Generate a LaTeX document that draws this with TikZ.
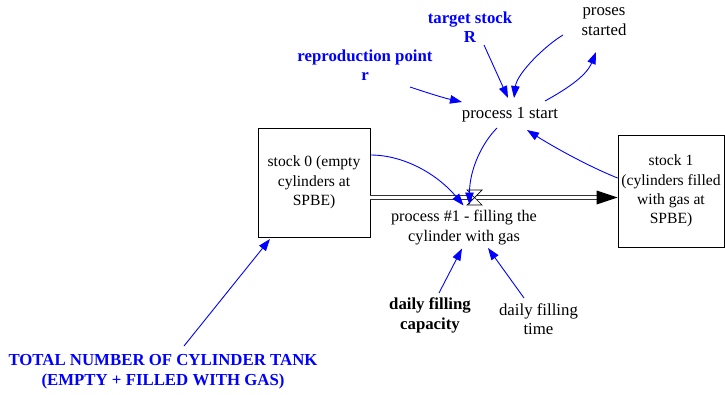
\documentclass[tikz,border=0pt]{standalone}
\usepackage{fontspec}
\setmainfont{Liberation Serif}
\usetikzlibrary{arrows.meta,calc}
\definecolor{infoblue}{RGB}{0,0,255}
\tikzset{
  txt/.style={align=center, inner sep=1pt, font=\fontsize{16.8}{19.5}\selectfont},
  boldtxt/.style={txt, font=\fontsize{16.8}{19.5}\selectfont\bfseries},
  bluetxt/.style={boldtxt, text=infoblue},
  stockbox/.style={txt, draw, line width=0.8pt, font=\fontsize{15.6}{19.3}\selectfont},
  link/.style={draw=infoblue, line width=0.9pt, -{Triangle[length=12pt,width=8.5pt]}},
  pipe/.style={draw=black!80, double=white, double distance=3pt, line width=0.75pt},
}
\begin{document}
\begin{tikzpicture}[x=1pt,y=-1pt]
\path[use as bounding box] (0,0) rectangle (725,394);

% stocks
\node[stockbox, minimum width=112pt, minimum height=109pt] (s0) at (314,182.5)
  {stock 0 (empty\\cylinders at\\SPBE)};
\node[stockbox, minimum width=106pt, minimum height=112pt] (s1) at (671,191)
  {stock 1\\(cylinders filled\\with gas at\\SPBE)};

% auxiliaries and labels
\node[txt] (p1s) at (510,115) {process 1 start};
\node[bluetxt] (tsR) at (470,27) {target stock\\R};
\node[txt] (ps) at (604,21.5) {proses\\started};
\node[bluetxt] (rpr) at (365,65) {reproduction point\\r};
\node[txt, font=\fontsize{16.2}{19.5}\selectfont] (flow) at (464,227.5) {process \#1 - filling the\\cylinder with gas};
\node[boldtxt] (dfc) at (430,315.5) {daily filling\\capacity};
\node[txt] (dft) at (538.5,319) {daily filling\\time};
\node[bluetxt] (tot) at (163,371.5) {TOTAL NUMBER OF CYLINDER TANK\\(EMPTY + FILLED WITH GAS)};

% flow pipe with valve
\coordinate (v) at (474.5,197.5);
\coordinate (pin) at (s0.east |- v);
\coordinate (pout) at (s1.west |- v);
\draw[pipe] (pin) -- ($(pout)+(-19,0)$);
\fill (pout) -- ++(-21,-7) -- ++(0,14) -- cycle;
\draw[fill=white, line width=0.7pt]
  ($(v)+(-7.5,-7.5)$) -- ($(v)+(7.5,-7.5)$) -- ($(v)+(-7.5,7.5)$) -- ($(v)+(7.5,7.5)$) -- cycle;

% information links
\draw[link] ($(rpr)+(45,22)$) .. controls +(18,6) and +(-18,-4) .. ($(p1s)+(-48,-13)$);
\draw[link] ($(tsR)+(14,18)$) -- ($(p1s)+(-2,-17)$);
\draw[link] ($(ps)+(-41,13.5)$) .. controls +(-17,10) and +(3,-25) .. ($(p1s)+(4,-17)$);
\draw[link] ($(p1s)+(35,-14)$) .. controls +(18,-10) and +(-10,25) .. ($(ps)+(-8,30.5)$);
\draw[link] ($(s1.west)+(0,-13)$) .. controls +(-30,-12) and +(25,16) .. ($(p1s)+(17,15)$);
\draw[link] ($(p1s)+(-13,13)$) .. controls +(-15,15) and +(0,-35) .. ($(v)+(-5,7)$);
\draw[link] ($(s0.east)+(0,-27.5)$) .. controls +(35,0) and +(-25,-30) .. ($(v)+(-11,8)$);
\draw[link] ($(dfc)+(9,-22.5)$) -- ($(flow)+(-2,21)$);
\draw[link] ($(dft)+(-14.5,-21)$) -- ($(flow)+(24,20.5)$);
\draw[link] ($(tot)+(21,-25.5)$) -- ($(s0)+(-44,56.5)$);
\end{tikzpicture}
\end{document}
